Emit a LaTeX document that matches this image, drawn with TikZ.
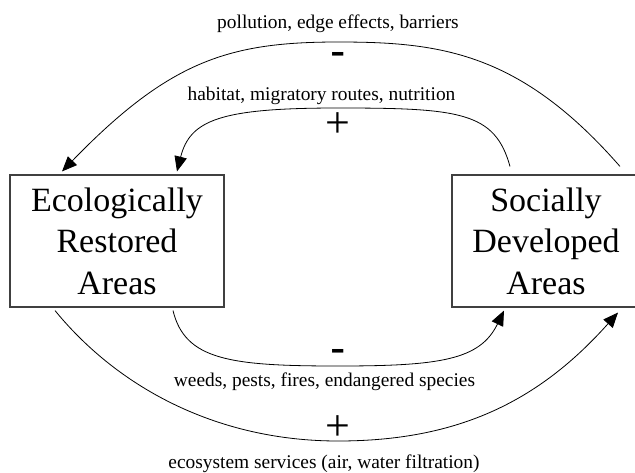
\documentclass[tikz,border=0pt]{standalone}
\usepackage{fontspec}
\setmainfont{Liberation Serif}
\newfontfamily\signfont{Liberation Sans}
\usetikzlibrary{arrows.meta}

\begin{document}
\begin{tikzpicture}[x=1pt,y=-1pt,
  area/.style={draw=black!75,line width=1.1pt,align=center,inner sep=0pt,
    minimum height=132pt,font=\fontsize{34}{41.5}\selectfont},
  link/.style={line width=0.8pt,-{Triangle[length=15pt,width=12.5pt]}},
  effect/.style={anchor=base,font=\fontsize{19.4}{23}\selectfont},
  negsign/.style={anchor=base,font=\signfont\fontsize{46}{50}\selectfont},
  possign/.style={anchor=base,font=\fontsize{44}{48}\selectfont}]
\useasboundingbox (0,0) rectangle (635,472);
\clip (0,0) rectangle (635,472);
\node[area,minimum width=214pt] (era) at (117,241) {Ecologically\\Restored\\Areas};
\node[area,minimum width=188pt] (sda) at (546,241) {Socially\\Developed\\Areas};
% upper loop: developed -> restored
\draw[link] ([xshift=74pt,yshift=8pt]sda.north) .. controls (520,52) and (440,42) .. (338,42)
  .. controls (230,42) and (170,60) .. ([xshift=-55pt,yshift=3pt]era.north);
\node[effect] (pollution) at (338,28) {pollution, edge effects, barriers};
\node[negsign] (neg1) at (338,66) {-};
\draw[link] ([xshift=-36pt,yshift=8pt]sda.north) .. controls (495,112) and (460,108) .. (338,108)
  .. controls (220,108) and (190,120) .. ([xshift=60pt,yshift=3pt]era.north);
\node[effect] (habitat) at (321.5,100) {habitat, migratory routes, nutrition};
\node[possign] (pos1) at (338,137) {+};
% lower loop: restored -> developed
\draw[link] ([xshift=56pt,yshift=-3pt]era.south) .. controls (185,360) and (230,366) .. (338,366)
  .. controls (440,366) and (480,360) .. ([xshift=-42pt,yshift=-3pt]sda.south);
\node[negsign] (neg2) at (338,363) {-};
\node[effect] (weeds) at (324.5,386) {weeds, pests, fires, endangered species};
\draw[link] ([xshift=-62pt,yshift=-3pt]era.south) .. controls (120,390) and (220,441) .. (338,441)
  .. controls (460,441) and (540,400) .. ([xshift=72pt,yshift=-5pt]sda.south);
\node[possign] (pos2) at (338,440) {+};
\node[effect] (services) at (324,468) {ecosystem services (air, water filtration)};
\end{tikzpicture}
\end{document}
